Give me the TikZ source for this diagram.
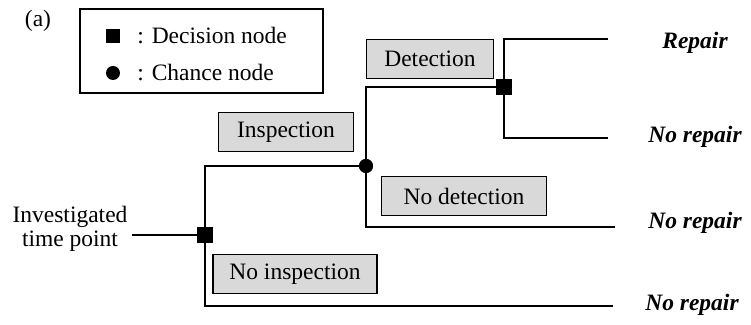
\documentclass[tikz,border=0pt]{standalone}
\usepackage{fontspec}
\setmainfont{Liberation Serif}
\begin{document}
\begin{tikzpicture}[
x=0.5pt, y=-0.5pt,
every node/.style={
font=\fontsize{11.75}{14}\selectfont
},
labelbox/.style={
draw,
fill=black!15,
line width=0.6pt,
minimum height=19.5pt,
inner sep=0pt
},
decision/.style={
rectangle,
fill=black,
minimum size=8pt,
inner sep=0pt
},
chance/.style={
circle,
fill=black,
minimum size=7pt,
inner sep=0pt
},
outcome/.style={
font=\fontsize{11.75}{14}\selectfont\bfseries\itshape
},
branch/.style={
line width=1.1pt
}
]

\useasboundingbox (0,0) rectangle (751,325);

% legend
\node (a) at (38,21)
{(a)};

\node[draw, line width=0.6pt, minimum width=121.5pt, minimum height=42pt] (legend) at (201.5,51)
{};

\node[decision, minimum size=7pt] (lsq) at (113,36)
{};

\node[chance] (lci) at (113,73)
{};

\node[anchor=west, inner sep=0pt] (ltxt1) at (137,36)
{: Decision node};

\node[anchor=west, inner sep=0pt] (ltxt2) at (137,73)
{: Chance node};

% tree
\node[align=center, inner sep=2pt] (start) at (70,229)
{Investigated\\[-2pt]time point};

\node[decision] (d1) at (205,235)
{};

\node[chance] (c1) at (366,166)
{};

\node[decision] (d2) at (504,87)
{};

\coordinate (e1) at (608,39);
\coordinate (e2) at (608,138);
\coordinate (e3) at (615,227);
\coordinate (e4) at (613,306);

% branch labels
\node[labelbox, minimum width=67.5pt] (insp) at (286,132)
{Inspection};

\node[labelbox, minimum width=82pt] (noinsp) at (295,274)
{No inspection};

\node[labelbox, minimum width=63.5pt] (det) at (430,59)
{Detection};

\node[labelbox, minimum width=82.5pt] (nodet) at (464,196)
{No detection};

% outcomes
\node[outcome] (o1) at (695,43)
{Repair};

\node[outcome] (o2) at (695,137)
{No repair};

\node[outcome] (o3) at (695,223)
{No repair};

\node[outcome] (o4) at (692,305)
{No repair};

\draw[branch] (start.east |- d1) -- (d1);
\draw[branch] (d1.center) |- (c1);
\draw[branch] (d1.center) |- (e4);
\draw[branch] (c1.center) |- (d2);
\draw[branch] (c1.center) |- (e3);
\draw[branch] (d2.center) |- (e1);
\draw[branch] (d2.center) |- (e2);

\node[decision] at (d1) {};
\node[chance] at (c1) {};
\node[decision] at (d2) {};

\end{tikzpicture}
\end{document}
